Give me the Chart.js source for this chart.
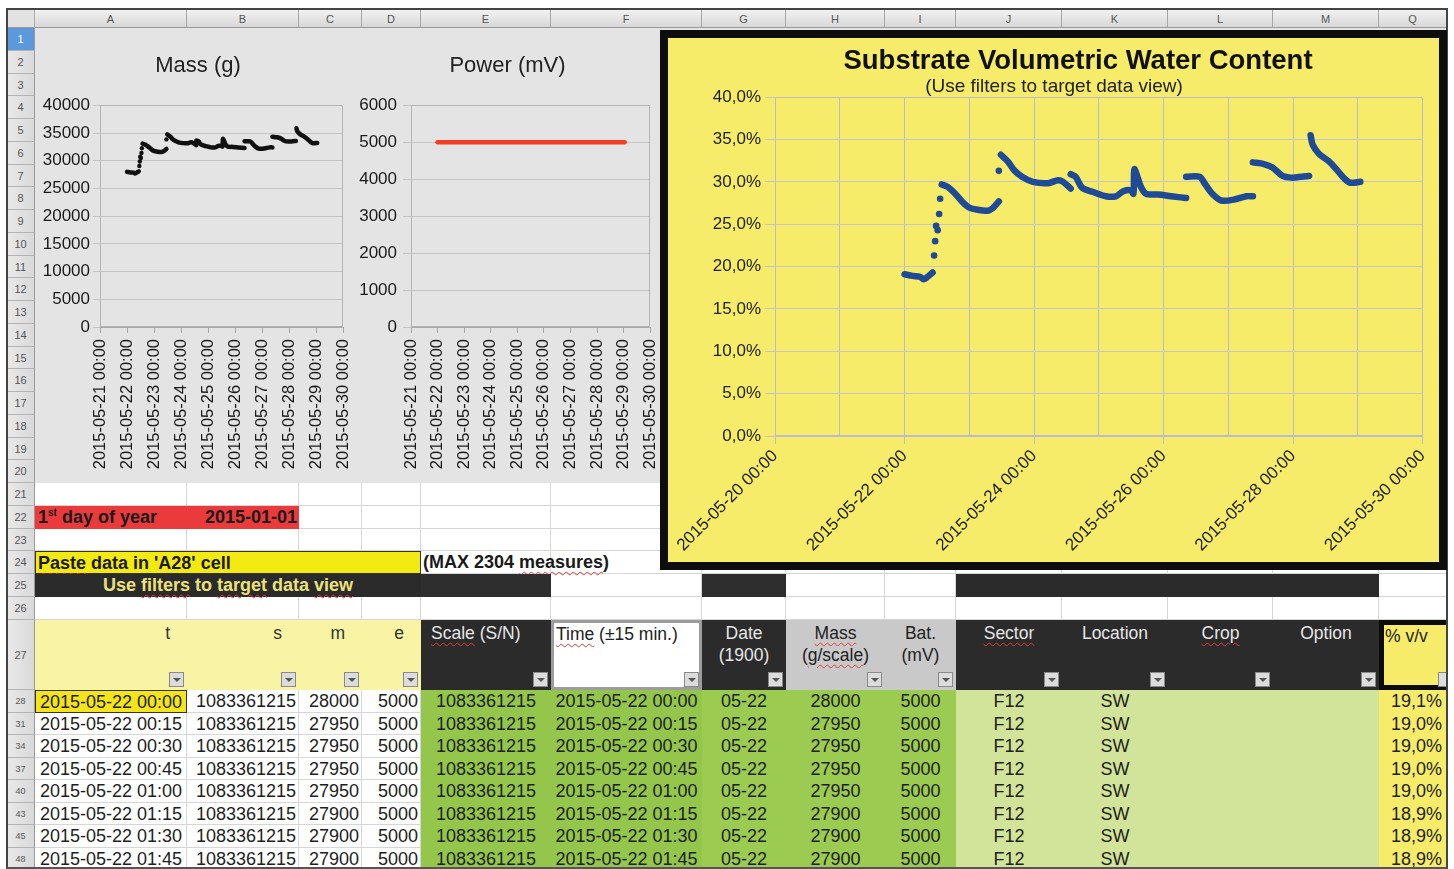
<!DOCTYPE html>
<html lang="en">
<head>
<meta charset="UTF-8">
<title>Substrate Volumetric Water Content</title>
<script src="https://cdn.jsdelivr.net/npm/chart.js"></script>
<style>
  html, body { margin: 0; padding: 0; background: #fff; }
  body { width: 1454px; height: 869px; overflow: hidden; position: relative;
         font-family: "Liberation Sans", Arial, sans-serif; }
  #sheet { position: absolute; left: 0; top: 0; width: 1454px; height: 869px; }
  .c { position: absolute; box-sizing: border-box; white-space: nowrap; }
  .sp { text-decoration: underline wavy #e23a3a 1px; text-underline-offset: 3px; }
  .chart { position: absolute; }
  #vwcBox { position: absolute; left: 660px; top: 30px; width: 787px; height: 540px;
            box-sizing: border-box; border: 8px solid #0d0d0d; background: #f6ec6a; }
</style>
</head>
<body>
<div id="sheet"></div>

<canvas id="massChart" class="chart" width="334" height="455" style="left:35px;top:28px"></canvas>
<canvas id="powerChart" class="chart" width="326" height="455" style="left:350px;top:28px"></canvas>
<div id="vwcBox"><canvas id="vwcChart" width="771" height="524"></canvas></div>

<script>
// days counted from 2015-05-20 00:00
const dayLabels = ['2015-05-20 00:00', '2015-05-21 00:00', '2015-05-22 00:00', '2015-05-23 00:00',
  '2015-05-24 00:00', '2015-05-25 00:00', '2015-05-26 00:00', '2015-05-27 00:00',
  '2015-05-28 00:00', '2015-05-29 00:00', '2015-05-30 00:00'];

// logger samples (null = gap between watering events)
const sampleDays = [
  2.000, 2.124, 2.240, 2.295, 2.357, 2.434, 2.50,
  2.574, 2.667, 2.783, 2.899, 2.992, 3.132, 3.287, 3.364, 3.457, 3.47,
  3.488, 3.597, 3.690, 3.814, 3.984, 4.217, 4.372, 4.450, 4.566, 4.566,
  4.566, 4.643, 4.744, 4.915, 5.109, 5.264, 5.380, 5.496, 5.535, 5.550, 5.597, 5.651, 5.729, 5.922, 6.116, 6.349, 6.349,
  6.349, 6.558, 6.636, 6.752, 6.891, 7.085, 7.279, 7.380, 7.380,
  7.380, 7.550, 7.682, 7.837, 7.977, 8.132, 8.248, 8.26,
  8.271, 8.302, 8.403, 8.558, 8.690, 8.791, 8.884, 9.039
];
const vwcValues = [
  19.1, 18.9, 18.8, 18.5, 18.8, 19.3, null,
  29.7, 29.4, 28.6, 27.6, 27.0, 26.7, 26.6, 26.9, 27.7, null,
  33.2, 32.4, 31.4, 30.6, 30.0, 29.85, 30.2, 30.0, 29.2, null,
  30.9, 30.6, 29.3, 28.8, 28.3, 28.3, 28.9, 29.0, 28.6, 31.5, 30.6, 29.4, 28.6, 28.5, 28.3, 28.1, null,
  30.6, 30.6, 29.8, 28.6, 27.8, 27.9, 28.3, 28.3, null,
  32.3, 32.1, 31.7, 30.7, 30.5, 30.6, 30.7, null,
  35.5, 34.4, 33.3, 32.4, 31.3, 30.4, 29.9, 30.0
];
const massValues = [
  28000, 27900, 27860, 27710, 27860, 28100, null,
  33090, 32940, 32560, 32080, 31790, 31650, 31600, 31740, 32130, null,
  34770, 34380, 33900, 33520, 33230, 33160, 33330, 33230, 32850, null,
  33660, 33520, 32900, 32660, 32420, 32420, 32700, 32750, 32560, 33950, 33520, 32940, 32560, 32510, 32420, 32320, null,
  33520, 33520, 33140, 32560, 32180, 32220, 32420, 32420, null,
  34340, 34240, 34050, 33570, 33470, 33520, 33570, null,
  35870, 35340, 34820, 34380, 33860, 33420, 33180, 33230
];
// isolated samples while the pot is being watered
const jumpDays = [2.457, 2.473, 2.488, 2.512, 2.535, 2.550, 3.457];
const jumpVwc = [21.3, 23.0, 24.8, 24.3, 26.2, 28.0, 31.3];
const jumpMass = [29060, 29870, 30740, 30500, 31410, 32270, 33860];
// battery
const powerDays = [2.0, 9.04];
const powerValues = [5000, 5000];

// table rows shown under the charts
const rowLabels = [28, 31, 34, 37, 40, 43, 45, 48];
const timeRows = ['2015-05-22 00:00', '2015-05-22 00:15', '2015-05-22 00:30', '2015-05-22 00:45',
  '2015-05-22 01:00', '2015-05-22 01:15', '2015-05-22 01:30', '2015-05-22 01:45'];
const scaleRows = ['1083361215', '1083361215', '1083361215', '1083361215',
  '1083361215', '1083361215', '1083361215', '1083361215'];
const massRows = [28000, 27950, 27950, 27950, 27950, 27900, 27900, 27900];
const batRows = [5000, 5000, 5000, 5000, 5000, 5000, 5000, 5000];
const vvRows = ['19,1%', '19,0%', '19,0%', '19,0%', '19,0%', '18,9%', '18,9%', '18,9%'];

// ---------- spreadsheet ----------
const sheet = document.getElementById('sheet');
const colNames = ['A', 'B', 'C', 'D', 'E', 'F', 'G', 'H', 'I', 'J', 'K', 'L', 'M', 'Q'];
const colEdges = [35, 187, 299, 362, 421, 551, 702, 786, 885, 956, 1062, 1168, 1273, 1379, 1447];
const colX = {};
colNames.forEach((n, i) => colX[n] = [colEdges[i], colEdges[i + 1]]);

function rowY(r) {
  if (r <= 26) { const t = 28 + (r - 1) * 22.75; return [t, t + 22.75]; }
  if (r === 27) return [619.5, 690];
  const t = 690 + (r - 28) * 22.5; return [t, t + 22.5];
}
function box(x1, y1, x2, y2, css, html) {
  const d = document.createElement('div');
  d.className = 'c';
  d.style.cssText = `left:${x1}px;top:${y1}px;width:${x2 - x1}px;height:${y2 - y1}px;` + (css || '');
  if (html !== undefined) d.innerHTML = html;
  sheet.appendChild(d);
  return d;
}
function cell(c1, c2, r1, r2, css, html) {
  return box(colX[c1][0], rowY(r1)[0], colX[c2][1], rowY(r2)[1], css, html);
}
function dropBtn(c, r) {
  const x2 = colX[c][1], y2 = rowY(r)[1];
  box(x2 - 18, y2 - 18, x2 - 3, y2 - 3, 'background:#dcdcdc;border:1px solid #8a8a8a;',
    '<div style="position:absolute;left:3px;top:5px;width:0;height:0;border-left:4px solid transparent;border-right:4px solid transparent;border-top:4px solid #555"></div>');
}

// column letters
box(7, 10, 35, 28, 'background:#e2e2e2;border-right:1px solid #aaa;border-bottom:1px solid #999;');
colNames.forEach(n => box(colX[n][0], 10, colX[n][1], 28,
  'background:linear-gradient(#f1f1f1,#d8d8d8);border-right:1px solid #a6a6a6;border-bottom:1px solid #999;' +
  'text-align:center;font-size:11px;line-height:18px;color:#555;', n));

// row numbers
for (let r = 1; r <= 35; r++) {
  const [t, b] = rowY(r);
  const label = r <= 27 ? r : rowLabels[r - 28];
  const first = r === 1;
  box(7, t, 35, b, (first ? 'background:#5b98dc;color:#fff;' : 'background:linear-gradient(90deg,#e9e9e9,#d9d9d9);color:#555;') +
    'border-bottom:1px solid #b3b3b3;border-right:1px solid #9a9a9a;text-align:center;' +
    `font-size:${r > 27 ? 9 : 11}px;line-height:${b - t}px;`, label);
}

// chart backdrop rows 1-20
box(35, 28, 1447, rowY(20)[1], 'background:#e4e4e4;');

// plain white cells with gridlines
for (let r = 21; r <= 35; r++) {
  colNames.forEach(n => cell(n, n, r, r, 'background:#fff;border-right:1px solid #d6d6d6;border-bottom:1px solid #d6d6d6;'));
}

const txt = 'font-size:17.5px;line-height:22px;';
const btxt = 'font-size:18px;line-height:22px;font-weight:bold;';
// row 22
cell('A', 'B', 22, 22, 'background:#ea3a3c;color:#1a1a1a;' + btxt,
  '<span style="position:absolute;left:3px;top:0">1<sup style="font-size:10px;vertical-align:7px;line-height:0">st</sup> day of year</span>' +
  '<span style="position:absolute;right:2px;top:0">2015-01-01</span>');
// row 24
cell('A', 'D', 24, 24, 'background:#f3ea12;border:1px solid #333;color:#1a1a1a;padding-left:2px;' + btxt,
  '<span class="sp">Paste</span> data in \'A28\' cell');
cell('E', 'E', 24, 24, 'color:#1a1a1a;padding-left:2px;overflow:visible;' + btxt,
  '(MAX 2304 <span class="sp">measures</span>)');
// row 25
cell('A', 'D', 25, 25, 'background:#2b2b2b;color:#ece27a;text-align:center;' + btxt,
  'Use <span class="sp">filters</span> to <span class="sp">target</span> data <span class="sp">view</span>');
cell('E', 'E', 25, 25, 'background:#2e2e2e;');
cell('G', 'G', 25, 25, 'background:#2e2e2e;');
cell('J', 'M', 25, 25, 'background:#2b2b2b;');

// row 27 headers
['A', 'B', 'C', 'D'].forEach((n, i) => {
  cell(n, n, 27, 27, 'background:#f8f4a4;text-align:right;padding-right:17px;padding-top:2px;color:#333;' + txt, ['t', 's', 'm', 'e'][i]);
});
cell('E', 'E', 27, 27, 'background:#2b2b2b;color:#e6e6e6;padding-left:10px;padding-top:2px;' + txt, '<span class="sp">Scale</span> (S/N)');
cell('F', 'F', 27, 27, 'background:#fff;border:3px solid #9c9c9c;color:#222;padding-left:2px;padding-top:0;' + txt, '<span class="sp">Time</span> (±15 min.)');
cell('G', 'G', 27, 27, 'background:#2b2b2b;color:#e6e6e6;text-align:center;padding-top:2px;' + txt, 'Date<br>(1900)');
cell('H', 'H', 27, 27, 'background:#c9c9c9;color:#222;text-align:center;padding-top:2px;' + txt, '<span class="sp">Mass</span><br>(<span class="sp">g/scale</span>)');
cell('I', 'I', 27, 27, 'background:#c9c9c9;color:#222;text-align:center;padding-top:2px;' + txt, 'Bat.<br>(mV)');
[['J', 'Sector'], ['K', 'Location'], ['L', 'Crop'], ['M', 'Option']].forEach(([n, s]) => {
  cell(n, n, 27, 27, 'background:#2b2b2b;color:#e6e6e6;text-align:center;padding-top:2px;' + txt,
    (s === 'Sector' || s === 'Crop') ? '<span class="sp">' + s + '</span>' : s);
});
cell('Q', 'Q', 27, 27, 'background:#f6ec6a;border:5px solid #0c0c0c;border-right:none;color:#222;padding-left:1px;padding-top:0;' + txt, '% v/v');
['A', 'B', 'C', 'D', 'E', 'F', 'G', 'H', 'I', 'J', 'K', 'L', 'M'].forEach(n => dropBtn(n, 27));
box(1438, 672, 1447, 687, 'background:#dcdcdc;border:1px solid #8a8a8a;border-right:none;');

// data rows
const dtxt = 'font-size:18px;line-height:22px;color:#1e1e1e;';
timeRows.forEach((t, k) => {
  const r = 28 + k;
  if (k === 0) cell('A', 'A', r, r, 'background:#f4e41c;border:1.5px solid #333;padding-left:4px;' + dtxt, t);
  else cell('A', 'A', r, r, 'padding-left:5px;' + dtxt, t);
  cell('B', 'B', r, r, 'text-align:right;padding-right:3px;' + dtxt, scaleRows[k]);
  cell('C', 'C', r, r, 'text-align:right;padding-right:3px;' + dtxt, massRows[k]);
  cell('D', 'D', r, r, 'text-align:right;padding-right:3px;' + dtxt, batRows[k]);
  cell('E', 'F', r, r, 'background:#93c64b;');
  cell('G', 'I', r, r, 'background:#9bcb50;');
  cell('E', 'E', r, r, 'text-align:center;' + dtxt, scaleRows[k]);
  cell('F', 'F', r, r, 'text-align:center;' + dtxt, t);
  cell('G', 'G', r, r, 'text-align:center;' + dtxt, t.slice(5, 10));
  cell('H', 'H', r, r, 'text-align:center;' + dtxt, massRows[k]);
  cell('I', 'I', r, r, 'text-align:center;' + dtxt, batRows[k]);
  cell('J', 'M', r, r, 'background:#d1e499;');
  cell('J', 'J', r, r, 'text-align:center;' + dtxt, 'F12');
  cell('K', 'K', r, r, 'text-align:center;' + dtxt, 'SW');
  cell('Q', 'Q', r, r, 'background:#f6ec6a;text-align:right;padding-right:5px;' + dtxt, vvRows[k]);
});

// outer frame
box(7, 8, 1447, 10, 'background:#444;');
box(6, 8, 8, 869, 'background:#444;');
box(1446, 8, 1448, 869, 'background:#444;');
box(7, 867, 1447, 869, 'background:#555;');

// ---------- charts ----------
Chart.defaults.font.family = '"Liberation Sans", Arial, sans-serif';
Chart.defaults.color = '#1a1a1a';

const framePlugin = {
  id: 'frame',
  beforeDatasetsDraw(chart, args, opts) {
    const a = chart.chartArea, ctx = chart.ctx;
    ctx.save();
    ctx.strokeStyle = opts.color || '#b0b0b0';
    ctx.lineWidth = 1;
    ctx.strokeRect(Math.round(a.left) + 0.5, Math.round(a.top) + 0.5,
      Math.round(a.right - a.left) - 1, Math.round(a.bottom - a.top) - 1);
    ctx.restore();
  }
};

// nudge the titles sideways, like in the sheet
const titleShift = {
  id: 'titleShift',
  afterLayout(chart, args, opts) {
    const subText = chart.options.plugins.subtitle.text;
    chart.boxes.forEach(b => {
      if (!b.options || b.options.text === undefined) return;
      const dx = b === chart.titleBlock ? opts.title : (b.options.text === subText ? opts.subtitle : 0);
      if (dx) { b.left += dx; b.right += dx; }
    });
  }
};

const xy = (xs, ys) => xs.map((x, i) => ({ x: x, y: ys[i] }));
const dayTick = v => dayLabels[Math.round(v)];

function smallChart(id, title, lineSets, yMax, yStep, yWidth, tickLen, tickPad, padRight) {
  return new Chart(document.getElementById(id), {
    type: 'line',
    data: { datasets: lineSets },
    options: {
      responsive: false,
      animation: false,
      layout: { padding: { left: 0, right: padRight, top: 0, bottom: 12 } },
      plugins: {
        legend: { display: false },
        tooltip: { enabled: false },
        title: { display: true, text: title, color: '#222',
          font: { size: 22, weight: 'normal' }, padding: { top: 25, bottom: 26 } },
        frame: { color: '#b4b4b4' }
      },
      scales: {
        x: {
          type: 'linear', min: 1, max: 10,
          afterFit(s) { s.height = 144; },
          ticks: { stepSize: 1, autoSkip: false, minRotation: 90, maxRotation: 90,
            font: { size: 16.5 }, color: '#1a1a1a', padding: 6, callback: dayTick },
          grid: { drawOnChartArea: false, tickLength: 6, color: '#a8a8a8' },
          border: { color: '#a8a8a8' }
        },
        y: {
          min: 0, max: yMax,
          afterFit(s) { s.width = yWidth; },
          ticks: { stepSize: yStep, font: { size: 17 }, color: '#1a1a1a', padding: tickPad,
            callback: v => String(v) },
          grid: { color: '#c4c4c4', tickLength: tickLen },
          border: { color: '#a8a8a8' }
        }
      }
    },
    plugins: [framePlugin]
  });
}

smallChart('massChart', 'Mass (g)', [
  { data: xy(sampleDays, massValues), borderColor: '#111', borderWidth: 4.5, pointRadius: 0,
    tension: 0.3, borderCapStyle: 'round', borderJoinStyle: 'round', spanGaps: false },
  { data: xy(jumpDays, jumpMass), showLine: false, pointRadius: 2.2, borderWidth: 0,
    backgroundColor: '#111' }
], 40000, 5000, 65, 7, 3, 8);

smallChart('powerChart', 'Power (mV)', [
  { data: xy(powerDays, powerValues), borderColor: '#f43d23', borderWidth: 4.5, pointRadius: 0,
    borderCapStyle: 'round' }
], 6000, 1000, 61, 8, 6, 11);

new Chart(document.getElementById('vwcChart'), {
  type: 'line',
  data: {
    datasets: [
      { data: xy(sampleDays, vwcValues), borderColor: '#1f4a95', borderWidth: 6.5, pointRadius: 0,
        tension: 0.3, borderCapStyle: 'round', borderJoinStyle: 'round', spanGaps: false },
      { data: xy(jumpDays, jumpVwc), showLine: false, pointRadius: 3.3, borderWidth: 0,
        backgroundColor: '#1f4a95' }
    ]
  },
  options: {
    responsive: false,
    animation: false,
    layout: { padding: { left: 0, right: 11, top: 0, bottom: 6 } },
    plugins: {
      legend: { display: false },
      tooltip: { enabled: false },
      title: { display: true, text: 'Substrate Volumetric Water Content', color: '#111',
        font: { size: 27.5, weight: 'bold', lineHeight: 1.1 }, padding: { top: 8, bottom: 0 } },
      subtitle: { display: true, text: '(Use filters to target data view)', color: '#222',
        font: { size: 19, lineHeight: 1.1 }, padding: { top: 0, bottom: 0 } },
      frame: { color: '#b9bccd' },
      titleShift: { title: 30, subtitle: 6 }
    },
    scales: {
      x: {
        type: 'linear', min: 0, max: 10,
        afterFit(s) { s.height = 120; },
        ticks: { stepSize: 1, autoSkip: false, minRotation: 45, maxRotation: 45,
          font: { size: 17 }, color: '#222', padding: 2,
          callback: v => (Math.round(v) % 2 === 0 ? dayLabels[Math.round(v)] : '') },
        grid: { color: '#b9bccd', tickLength: 8,
          tickColor: c => (c.tick && Math.round(c.tick.value) % 2 === 0 ? '#b9bccd' : 'rgba(0,0,0,0)') },
        border: { color: '#b9bccd' }
      },
      y: {
        min: 0, max: 40,
        afterFit(s) { s.width = 107; },
        ticks: { stepSize: 5, font: { size: 17 }, color: '#222', padding: 4,
          callback: v => v.toFixed(1).replace('.', ',') + '%' },
        grid: { color: '#c3c5cf', tickLength: 10 },
        border: { color: '#b9bccd' }
      }
    }
  },
  plugins: [framePlugin, titleShift]
});
</script>
</body>
</html>
